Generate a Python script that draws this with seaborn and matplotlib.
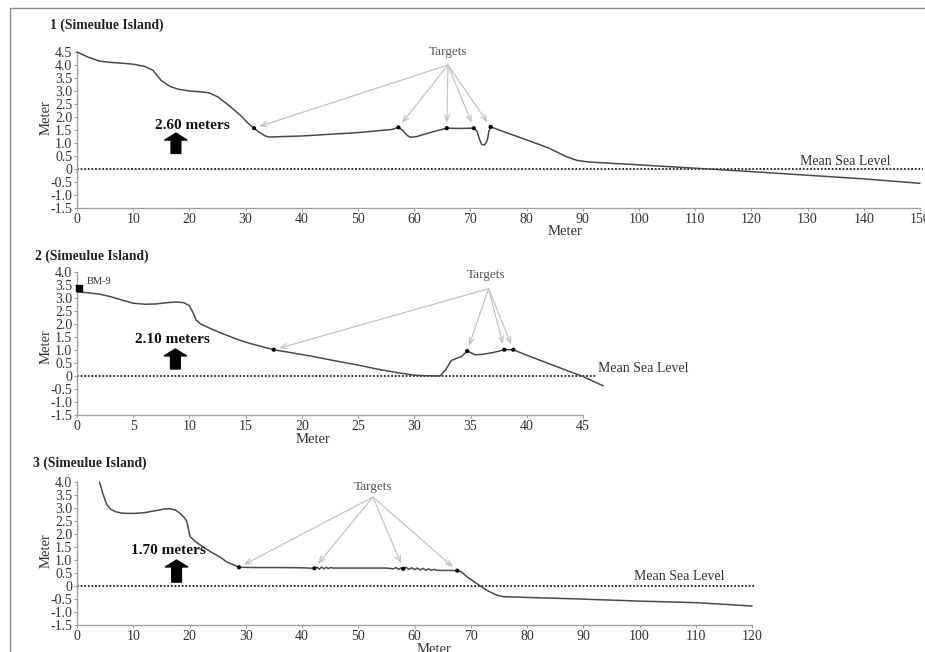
import matplotlib
matplotlib.use("Agg")
import matplotlib.pyplot as plt
import seaborn as sns
from matplotlib.lines import Line2D
from matplotlib.ticker import FuncFormatter

# profile 1 (Simeulue Island)
dist1 = [0, 2, 4, 6, 8, 10, 12, 13.5, 15, 16.5, 18, 20, 22, 23.5, 25, 27, 29, 30.5, 31.5, 32.5,
         33.5, 34.2, 40, 50, 56, 57.2, 58, 58.7, 59.3, 60.5, 62, 64, 65.8, 68, 70.6, 71.2, 71.6, 72,
         72.5, 73, 73.3, 73.6, 76, 80, 84, 87, 89, 91, 95, 100, 110, 120, 130, 140, 150]
elev1 = [4.5, 4.3, 4.15, 4.1, 4.07, 4.03, 3.95, 3.8, 3.4, 3.18, 3.07, 3.0, 2.97, 2.93, 2.78, 2.45,
         2.08, 1.75, 1.57, 1.4, 1.27, 1.23, 1.27, 1.4, 1.52, 1.6, 1.48, 1.3, 1.22, 1.25, 1.35, 1.47,
         1.57, 1.56, 1.57, 1.45, 1.15, 0.95, 0.92, 1.1, 1.45, 1.62, 1.43, 1.12, 0.8, 0.48, 0.33, 0.27,
         0.22, 0.16, 0.03, -0.1, -0.24, -0.38, -0.55]
targets1_x = [31.5, 57.2, 65.8, 70.6, 73.6]
targets1_y = [1.57, 1.6, 1.57, 1.57, 1.62]

# profile 2 (Simeulue Island)
dist2 = [0, 1, 2, 3, 4, 5, 6, 7, 8, 8.8, 9.5, 10, 10.3, 10.6, 11, 12, 13, 14, 15, 16, 17.5, 19, 21,
         23, 25, 27, 28.5, 30, 31, 32.3, 32.8, 33.3, 33.7, 34.2, 34.7, 35.4, 36, 37, 38.0, 38.8, 40,
         42, 44, 44.9, 46.8]
elev2 = [3.23, 3.2, 3.15, 3.05, 2.92, 2.8, 2.76, 2.77, 2.82, 2.85, 2.82, 2.7, 2.45, 2.15, 2.0, 1.8,
         1.62, 1.45, 1.3, 1.18, 1.01, 0.9, 0.75, 0.58, 0.42, 0.24, 0.13, 0.03, 0.01, 0.0, 0.25, 0.6,
         0.67, 0.75, 0.96, 0.82, 0.83, 0.9, 1.01, 1.01, 0.8, 0.47, 0.14, 0.0, -0.38]
targets2_x = [17.5, 34.7, 38.0, 38.8]
targets2_y = [1.01, 0.96, 1.01, 1.01]
bm9_x = [0.15]
bm9_y = [3.38]

# profile 3 (Simeulue Island)
dist3 = [4.0, 4.6, 5.3, 6.0, 6.8, 8, 10, 12, 14, 15.5, 16.5, 17.5, 18.3, 19.0, 19.5, 19.8, 20.1, 21,
         21.9, 23, 24.2, 25.5, 26.6, 27.8, 28.8, 32, 36, 40, 42.2, 42.7, 43.1, 43.5, 43.9, 44.3, 44.7,
         45.1, 45.5, 50, 55, 56.2, 56.7, 57.2, 57.6, 58.0, 58.5, 59.0, 59.5, 60.0, 60.5, 61.0, 61.5,
         62.0, 62.5, 63.0, 63.5, 64.0, 66, 67.6, 68.3, 69.3, 70.5, 71.6, 73, 74.6, 75.8, 80, 89.4,
         99.7, 110, 120]
elev3 = [4.0, 3.55, 3.12, 2.95, 2.86, 2.8, 2.79, 2.82, 2.9, 2.96, 2.97, 2.92, 2.8, 2.65, 2.5, 2.2,
         1.9, 1.72, 1.58, 1.42, 1.26, 1.1, 0.93, 0.82, 0.72, 0.71, 0.71, 0.7, 0.68, 0.72, 0.65, 0.73,
         0.66, 0.72, 0.67, 0.71, 0.69, 0.69, 0.69, 0.66, 0.71, 0.64, 0.7, 0.66, 0.72, 0.64, 0.7, 0.63,
         0.69, 0.62, 0.68, 0.61, 0.66, 0.6, 0.64, 0.6, 0.6, 0.59, 0.55, 0.36, 0.18, 0.01, -0.18,
         -0.35, -0.41, -0.44, -0.5, -0.58, -0.64, -0.77]
targets3_x = [28.8, 42.2, 58.0, 67.6]
targets3_y = [0.72, 0.68, 0.66, 0.59]

yticks1 = [-1.5, -1.0, -0.5, 0, 0.5, 1.0, 1.5, 2.0, 2.5, 3.0, 3.5, 4.0, 4.5]
yticks23 = [-1.5, -1.0, -0.5, 0, 0.5, 1.0, 1.5, 2.0, 2.5, 3.0, 3.5, 4.0]
xticks1 = list(range(0, 151, 10))
xticks2 = list(range(0, 46, 5))
xticks3 = list(range(0, 121, 10))

titles = ["1 (Simeulue Island)", "2 (Simeulue Island)", "3 (Simeulue Island)"]
rise_labels = ["2.60 meters", "2.10 meters", "1.70 meters"]

sns.set_style("ticks")
plt.rcParams["font.family"] = ["Liberation Serif", "DejaVu Serif"]

W, H = 925, 652
fig = plt.figure(figsize=(W / 100, H / 100), dpi=100)


def px_axes(left, top, right, bottom):
    return fig.add_axes([left / W, 1 - bottom / H, (right - left) / W, (bottom - top) / H])


def tick_fmt(v, pos):
    return "0" if abs(v) < 1e-9 else f"{v:.1f}"


def draw_profile(ax, dist, elev, tx, ty, xlim, ylim, xticks, yticks,
                 msl_end, msl_text_xy, tgt_text_xy, tgt_origin,
                 rise_label, rise_xy, up_x, up_y0, up_y1, xlab_xy, ylab_y):
    ax.set_xlim(*xlim)
    ax.set_ylim(*ylim)
    ax.set_xticks(xticks)
    ax.set_yticks(yticks)
    ax.yaxis.set_major_formatter(FuncFormatter(tick_fmt))
    for s in ["top", "right"]:
        ax.spines[s].set_visible(False)
    for s in ["left", "bottom"]:
        ax.spines[s].set_color("#a0a0a0")
        ax.spines[s].set_linewidth(1.0)
    ax.tick_params(direction="out", length=2.5, width=0.8, color="#a0a0a0",
                   labelcolor="#333333", labelsize=10, pad=1)
    ax.patch.set_alpha(0)

    # mean sea level
    ax.hlines(0, 0, msl_end, colors="#222222", linestyles=(0, (1, 1)), lw=1.3, clip_on=False)
    ax.text(msl_text_xy[0], msl_text_xy[1], "Mean Sea Level", fontsize=10, color="#333333",
            ha="left", va="center")

    # profile line
    sns.lineplot(x=dist, y=elev, ax=ax, color="#4a4a4a", lw=1.1, estimator=None, sort=False,
                 clip_on=False, zorder=3)
    sns.scatterplot(x=tx, y=ty, ax=ax, color="black", s=9, edgecolor="none", zorder=5)

    # target arrows
    ax.text(tgt_text_xy[0], tgt_text_xy[1], "Targets", fontsize=9.5, color="#555555",
            ha="center", va="center")
    for x, y in zip(tx, ty):
        ax.annotate("", xy=(x, y), xytext=tgt_origin,
                    arrowprops=dict(arrowstyle="->,head_length=0.45,head_width=0.18",
                                    color="#c4c4c4", lw=0.9, shrinkA=0, shrinkB=4))

    # run-up height
    ax.text(rise_xy[0], rise_xy[1], rise_label, fontsize=11, fontweight="bold", color="#111111",
            ha="center", va="center")
    ax.annotate("", xy=(up_x, up_y1), xytext=(up_x, up_y0),
                arrowprops=dict(arrowstyle="simple,head_length=0.5,head_width=1.6,tail_width=0.7",
                                color="black", shrinkA=0, shrinkB=0))

    ax.set_xlabel("Meter", fontsize=10.5, color="#333333")
    ax.xaxis.set_label_coords(*xlab_xy)
    ax.set_ylabel("Meter", fontsize=10.5, color="#333333")
    ax.yaxis.set_label_coords(-24 / (ax.get_position().width * W), ylab_y)


ax1 = px_axes(77, 52, 920, 208)
ax2 = px_axes(77, 272, 583, 415)
ax3 = px_axes(77, 482, 752, 625)

draw_profile(ax1, dist1, elev1, targets1_x, targets1_y, (0, 150), (-1.5, 4.5), xticks1, yticks1,
             150.5, (128.6, 0.3), (66, 4.5), (66, 4.0),
             rise_labels[0], (20.5, 1.69), 17.6, 0.6, 1.38, (0.579, -0.11), 0.58)
draw_profile(ax2, dist2, elev2, targets2_x, targets2_y, (0, 45), (-1.5, 4.0), xticks2, yticks23,
             46.2, (46.3, 0.28), (36.4, 3.9), (36.6, 3.36),
             rise_labels[1], (8.5, 1.42), 8.75, 0.27, 1.04, (0.466, -0.125), 0.48)
draw_profile(ax3, dist3, elev3, targets3_x, targets3_y, (0, 120), (-1.5, 4.0), xticks3, yticks23,
             120.5, (99, 0.35), (52.6, 3.8), (52.6, 3.42),
             rise_labels[2], (16.2, 1.38), 17.7, 0.15, 1.0, (0.529, -0.126), 0.52)

# BM-9 benchmark on profile 2
ax2.plot(bm9_x, bm9_y, marker="s", ms=4.5, color="black", ls="none", clip_on=False, zorder=6)
ax2.text(0.9, 3.65, "BM-9", fontsize=7.5, color="#333333", ha="left", va="center")

for (x, y), t in zip([(50, 25), (35, 256), (33, 463)], titles):
    fig.text(x / W, 1 - y / H, t, fontsize=9.8, fontweight="bold", color="#222222",
             ha="left", va="center")

# figure frame
fig.add_artist(Line2D([10 / W, 10 / W], [0, 1 - 8 / H], transform=fig.transFigure,
                      color="#8a8a8a", lw=1.0))
fig.add_artist(Line2D([10 / W, 1], [1 - 8 / H, 1 - 8 / H], transform=fig.transFigure,
                      color="#8a8a8a", lw=1.0))

fig.savefig("out.png", dpi=100)
